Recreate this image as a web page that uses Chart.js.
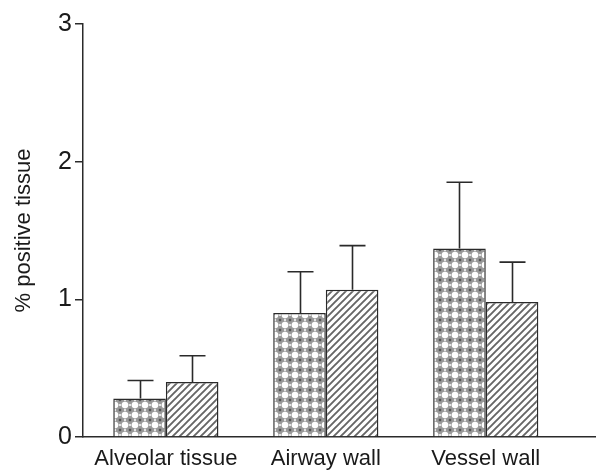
<!DOCTYPE html>
<html>
<head>
<meta charset="utf-8">
<script src="https://cdn.jsdelivr.net/npm/chart.js@4.4.1/dist/chart.umd.min.js"></script>
<style>
  html, body { margin: 0; padding: 0; background: #ffffff; }
  #wrap { width: 602px; height: 471px; position: relative; }
</style>
</head>
<body>
<div id="wrap"><canvas id="c" width="602" height="471"></canvas></div>
<script>
// ---- data ----
const categories = ['Alveolar tissue', 'Airway wall', 'Vessel wall'];
const seriesA = [0.28, 0.90, 1.37];      // cross-hatched bars
const seriesAErr = [0.13, 0.30, 0.48];   // upper error
const seriesB = [0.40, 1.07, 0.98];      // diagonal-hatched bars
const seriesBErr = [0.19, 0.32, 0.29];
const yTicks = [0, 1, 2, 3];
const yTitle = '% positive tissue';

const FONT = '"Liberation Sans", Arial, Helvetica, sans-serif';
const INK = '#2a2a2a';

const canvas = document.getElementById('c');
const ctx = canvas.getContext('2d');

function makeCrossPattern() {
  const t = document.createElement('canvas');
  t.width = 10; t.height = 10;
  const g = t.getContext('2d');
  g.fillStyle = '#9a9a9a';
  g.fillRect(0, 0, 10, 10);
  g.fillStyle = '#ffffff';
  g.beginPath(); g.arc(5, 5, 3.3, 0, Math.PI * 2); g.fill();
  g.fillStyle = '#e6e6e6';
  g.fillRect(4, 0, 2, 1.2); g.fillRect(0, 4, 1.2, 2); g.fillRect(8.8, 4, 1.2, 2); g.fillRect(4, 8.8, 2, 1.2);
  g.fillStyle = '#555555';
  g.fillRect(0, 0, 1.2, 1.2); g.fillRect(8.8, 0, 1.2, 1.2); g.fillRect(0, 8.8, 1.2, 1.2); g.fillRect(8.8, 8.8, 1.2, 1.2);
  return ctx.createPattern(t, 'repeat');
}
function makeDiagPattern() {
  const s = 7;
  const t = document.createElement('canvas');
  t.width = s; t.height = s;
  const g = t.getContext('2d');
  g.fillStyle = '#ffffff';
  g.fillRect(0, 0, s, s);
  g.strokeStyle = '#666666';
  g.lineWidth = 1.9;
  g.beginPath();
  g.moveTo(-1, s + 1); g.lineTo(s + 1, -1);
  g.moveTo(-2, 2); g.lineTo(2, -2);
  g.moveTo(s - 2, s + 2); g.lineTo(s + 2, s - 2);
  g.stroke();
  return ctx.createPattern(t, 'repeat');
}

const errorBars = {
  id: 'errorBars',
  afterDatasetsDraw(chart) {
    const c = chart.ctx;
    const yScale = chart.scales.y;
    c.save();
    c.strokeStyle = INK;
    c.lineWidth = 1.6;
    chart.data.datasets.forEach((ds, i) => {
      const meta = chart.getDatasetMeta(i);
      meta.data.forEach((el, j) => {
        const v = ds.data[j].y;
        const top = yScale.getPixelForValue(v + ds.errors[j]);
        const x = Math.round(el.x) + 0.5;
        c.beginPath();
        c.moveTo(x, el.y);
        c.lineTo(x, top);
        c.moveTo(x - 13, top);
        c.lineTo(x + 13, top);
        c.stroke();
      });
    });
    c.restore();
  }
};

new Chart(canvas, {
  type: 'bar',
  data: {
    datasets: [
      {
        data: seriesA.map((v, i) => ({ x: i, y: v })),
        errors: seriesAErr,
        backgroundColor: makeCrossPattern(),
        borderColor: INK,
        borderWidth: 1.5,
        categoryPercentage: 0.6575,
        barPercentage: 1.0
      },
      {
        data: seriesB.map((v, i) => ({ x: i, y: v })),
        errors: seriesBErr,
        backgroundColor: makeDiagPattern(),
        borderColor: INK,
        borderWidth: 1.5,
        categoryPercentage: 0.6575,
        barPercentage: 1.0
      }
    ]
  },
  options: {
    responsive: false,
    animation: false,
    layout: { padding: { top: 24, right: 7, left: 0, bottom: 0 } },
    plugins: { legend: { display: false }, tooltip: { enabled: false } },
    scales: {
      x: {
        type: 'linear',
        offset: false,
        bounds: 'ticks',
        min: -0.518,
        max: 2.683,
        afterBuildTicks: (scale) => { scale.ticks = categories.map((c, i) => ({ value: i })); },
        afterFit: (scale) => { scale.height = 34; },
        grid: { display: true, drawOnChartArea: false, drawTicks: false, color: INK },
        border: { display: true, color: INK, width: 1.5 },
        ticks: {
          padding: 9,
          color: '#1a1a1a',
          font: { family: FONT, size: 22 },
          maxRotation: 0,
          autoSkip: false,
          callback: (v) => categories[v]
        }
      },
      y: {
        min: yTicks[0],
        max: yTicks[yTicks.length - 1],
        afterBuildTicks: (scale) => { scale.ticks = yTicks.map(v => ({ value: v })); },
        afterFit: (scale) => { scale.width = 83; },
        grid: { display: true, drawOnChartArea: false, drawTicks: true, tickLength: 8, color: INK, lineWidth: 1.5 },
        border: { display: true, color: INK, width: 1.5 },
        ticks: {
          padding: 3,
          color: '#1a1a1a',
          font: { family: FONT, size: 25 }
        },
        title: {
          display: true,
          text: yTitle,
          color: '#1a1a1a',
          font: { family: FONT, size: 22 },
          padding: { top: 11, bottom: 0 }
        }
      }
    }
  },
  plugins: [errorBars]
});
</script>
</body>
</html>
